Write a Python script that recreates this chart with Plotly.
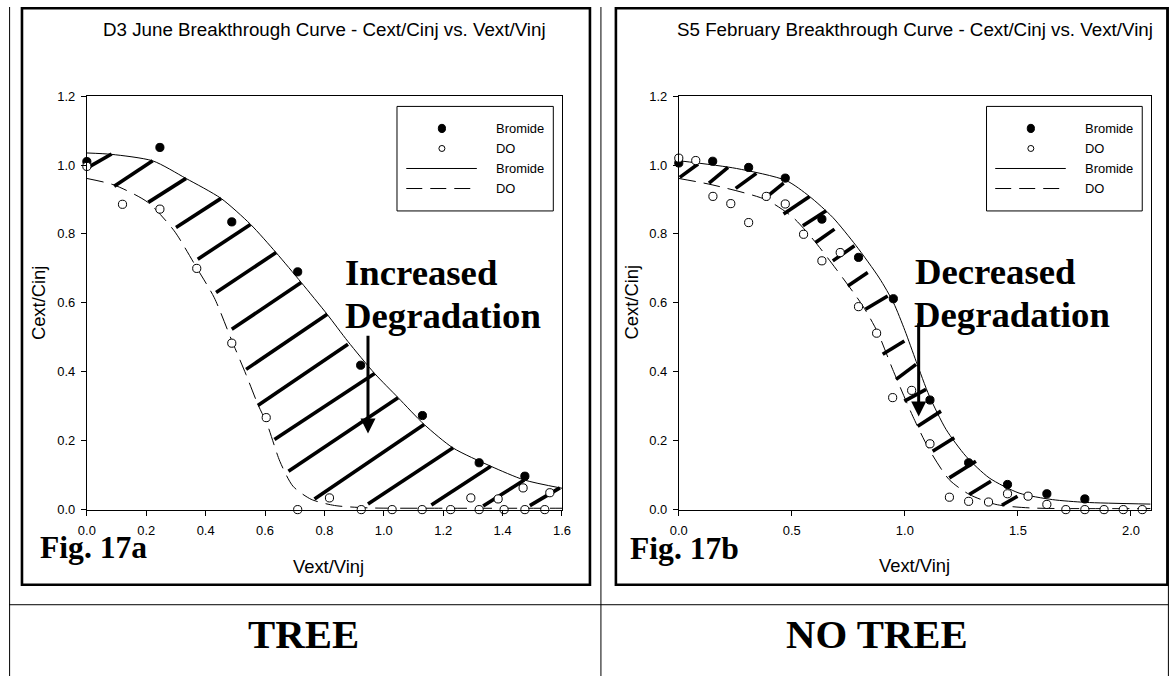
import plotly.graph_objects as go

# The viewer shows the page with an 8 px body margin and rescales the shot,
# so target pixels are mapped back to figure pixels below.
W, H = 1171, 676
OFF = 8
SX, SY = 1171 / 1187, 676 / 692
FIGW, FIGH = 1179, 684
FS = 1.02   # font / marker compensation for the rescale

# ---------------- Fig. 17a (D3 June) ----------------
a_br_x = [0.0, 0.246, 0.488, 0.71, 0.922, 1.13, 1.321, 1.475]
a_br_y = [1.01, 1.051, 0.835, 0.69, 0.419, 0.273, 0.136, 0.097]
a_do_x = [0.0, 0.12, 0.246, 0.37, 0.488, 0.604, 0.71, 0.817, 0.924, 1.028, 1.129, 1.225,
          1.293, 1.321, 1.385, 1.405, 1.469, 1.475, 1.542, 1.559]
a_do_y = [0.996, 0.886, 0.872, 0.70, 0.483, 0.267, 0.0, 0.034, 0.0, 0.0, 0.0, 0.0,
          0.034, 0.0, 0.031, 0.0, 0.063, 0.0, 0.0, 0.049]
a_brfit_x = [0.0, 0.083, 0.222, 0.334, 0.452, 0.551, 0.637, 0.722, 0.809, 0.879, 0.969,
             1.048, 1.136, 1.233, 1.36, 1.473, 1.6]
a_brfit_y = [1.035, 1.031, 1.012, 0.961, 0.903, 0.828, 0.746, 0.659, 0.567, 0.488, 0.395,
             0.325, 0.247, 0.179, 0.126, 0.086, 0.062]
a_dofit_x = [0.0, 0.092, 0.205, 0.294, 0.371, 0.429, 0.486, 0.536, 0.576, 0.607, 0.65,
             0.694, 0.755, 0.834, 0.95, 1.2, 1.6]
a_dofit_y = [0.961, 0.942, 0.892, 0.809, 0.70, 0.615, 0.495, 0.392, 0.305, 0.248, 0.14,
             0.068, 0.030, 0.012, 0.005, 0.004, 0.004]
a_hatch_x0 = [0.0044, 0.0921, 0.2067, 0.3002, 0.3734, 0.4351, 0.4880, 0.5363, 0.5757, 0.6317,
              0.6789, 0.7666, 0.9467, 1.1602, 1.3346, 1.4917]
a_hatch_y0 = [0.9933, 0.9381, 0.8916, 0.8189, 0.7267, 0.6299, 0.5233, 0.4070, 0.3023, 0.2035,
              0.1113, 0.0311, 0.0166, 0.0131, 0.0102, 0.0116]
a_hatch_x1 = [0.0833, 0.2216, 0.3339, 0.4519, 0.5508, 0.6374, 0.7218, 0.8094, 0.8793, 0.9690,
              1.0479, 1.1356, 1.2334, 1.3602, 1.4729, 1.5929]
a_hatch_y1 = [1.0320, 1.0125, 0.9613, 0.9032, 0.8276, 0.7462, 0.6590, 0.5669, 0.4797, 0.3953,
              0.3247, 0.2471, 0.1794, 0.1259, 0.0858, 0.0631]
a_arrow = [0.9467, 0.5087, 0.9467, 0.221]   # x_tail, y_tail, x_tip, y_tip

# ---------------- Fig. 17b (S5 February) ----------------
b_br_x = [0.0, 0.15, 0.309, 0.471, 0.633, 0.795, 0.949, 1.111, 1.282, 1.454, 1.628, 1.796]
b_br_y = [1.006, 1.011, 0.993, 0.962, 0.843, 0.732, 0.612, 0.318, 0.136, 0.073, 0.046, 0.031]
b_do_x = [0.0, 0.075, 0.151, 0.23, 0.309, 0.387, 0.471, 0.552, 0.633, 0.714, 0.795, 0.875,
          0.946, 1.03, 1.111, 1.197, 1.282, 1.37, 1.454, 1.545, 1.628, 1.712, 1.796, 1.881,
          1.966, 2.05]
b_do_y = [1.02, 1.013, 0.909, 0.888, 0.833, 0.909, 0.887, 0.799, 0.722, 0.746, 0.589, 0.512,
          0.325, 0.346, 0.191, 0.036, 0.024, 0.022, 0.046, 0.039, 0.015, 0.0, 0.0, 0.0,
          0.0, 0.0]
b_brfit_x = [0.0, 0.255, 0.475, 0.578, 0.681, 0.784, 0.887, 0.95, 1.0, 1.05, 1.108, 1.182,
             1.27, 1.373, 1.505, 1.653, 1.8, 2.087]
b_brfit_y = [1.0125, 0.99, 0.955, 0.909, 0.848, 0.766, 0.672, 0.60, 0.52, 0.43, 0.33, 0.233,
             0.155, 0.092, 0.048, 0.029, 0.021, 0.016]
b_dofit_x = [0.0, 0.151, 0.387, 0.505, 0.593, 0.696, 0.814, 0.88, 0.946, 1.035, 1.108, 1.196,
             1.285, 1.403, 1.55, 2.087]
b_dofit_y = [0.961, 0.942, 0.899, 0.848, 0.785, 0.698, 0.591, 0.514, 0.407, 0.271, 0.174,
             0.087, 0.044, 0.015, 0.005, 0.003]
b_hatch_x0 = [0.0044, 0.1338, 0.2517, 0.3766, 0.4636, 0.5488, 0.6049, 0.6813, 0.7475, 0.8256,
              0.9020, 0.9611, 0.9978, 1.0566, 1.1229, 1.1965, 1.2848, 1.4291]
b_hatch_y0 = [0.9642, 0.9477, 0.9322, 0.9012, 0.8576, 0.8236, 0.7752, 0.7219, 0.6492, 0.5814,
              0.4506, 0.3779, 0.3148, 0.2422, 0.1695, 0.0921, 0.0436, 0.0125]
b_hatch_x1 = [0.0852, 0.2177, 0.3430, 0.4636, 0.5784, 0.6521, 0.6887, 0.7770, 0.8358, 0.9241,
              0.9978, 1.0494, 1.0936, 1.1598, 1.2185, 1.3143, 1.3805, 1.4981]
b_hatch_y1 = [1.0029, 0.9933, 0.9758, 0.9477, 0.9089, 0.8672, 0.8140, 0.7655, 0.6880, 0.6200,
              0.4893, 0.4215, 0.3488, 0.2858, 0.2084, 0.1404, 0.0823, 0.0387]
b_arrow = [1.061, 0.545, 1.061, 0.27]

y_ticks = [0.0, 0.2, 0.4, 0.6, 0.8, 1.0, 1.2]
a_x_ticks = [0.0, 0.2, 0.4, 0.6, 0.8, 1.0, 1.2, 1.4, 1.6]
b_x_ticks = [0.0, 0.5, 1.0, 1.5, 2.0]

SANS = "Liberation Sans, Arial, sans-serif"
SERIF = "Liberation Serif, Times New Roman, serif"


def px(x):
    return max(0.0004, (x - OFF) / SX) / FIGW


def py(y):
    return 1 - max(0.0006, (y - OFF) / SY) / FIGH


fig = go.Figure()
shapes = []
annotations = []


def add_panel(xa, ya, br_x, br_y, do_x, do_y, brf_x, brf_y, dof_x, dof_y,
              hx0, hy0, hx1, hy1, arrow):
    fig.add_trace(go.Scatter(x=brf_x, y=brf_y, mode="lines", xaxis=xa, yaxis=ya,
                             line=dict(color="black", width=1, shape="spline", smoothing=0.7),
                             hoverinfo="skip"))
    fig.add_trace(go.Scatter(x=dof_x, y=dof_y, mode="lines", xaxis=xa, yaxis=ya,
                             line=dict(color="black", width=1, shape="spline", smoothing=0.7,
                                       dash="17px,8px"),
                             hoverinfo="skip"))
    fig.add_trace(go.Scatter(x=br_x, y=br_y, mode="markers", xaxis=xa, yaxis=ya, cliponaxis=False,
                             marker=dict(symbol="circle", size=8 * FS, color="black",
                                         line=dict(color="black", width=1))))
    fig.add_trace(go.Scatter(x=do_x, y=do_y, mode="markers", xaxis=xa, yaxis=ya, cliponaxis=False,
                             marker=dict(symbol="circle", size=8 * FS, color="white",
                                         line=dict(color="black", width=1))))
    xr = "x" if xa == "x" else "x2"
    yr = "y" if ya == "y" else "y2"
    for a, b, c, d in zip(hx0, hy0, hx1, hy1):
        shapes.append(dict(type="line", xref=xr, yref=yr, x0=a, y0=b, x1=c, y1=d,
                           line=dict(color="black", width=3.6), layer="below"))
    annotations.append(dict(x=arrow[2], y=arrow[3], ax=arrow[0], ay=arrow[1], xref=xr, yref=yr,
                            axref=xr, ayref=yr, showarrow=True, arrowhead=2, arrowsize=1,
                            arrowwidth=3, arrowcolor="black", text=""))


add_panel("x", "y", a_br_x, a_br_y, a_do_x, a_do_y, a_brfit_x, a_brfit_y, a_dofit_x, a_dofit_y,
          a_hatch_x0, a_hatch_y0, a_hatch_x1, a_hatch_y1, a_arrow)
add_panel("x2", "y2", b_br_x, b_br_y, b_do_x, b_do_y, b_brfit_x, b_brfit_y, b_dofit_x, b_dofit_y,
          b_hatch_x0, b_hatch_y0, b_hatch_x1, b_hatch_y1, b_arrow)


def text(x, y, s, size, family=SANS, xanchor="center", angle=0):
    annotations.append(dict(x=px(x), y=py(y), xref="paper", yref="paper", text=s,
                            showarrow=False, xanchor=xanchor, yanchor="middle", textangle=angle,
                            font=dict(family=family, size=size * FS, color="black")))


def legend(bx0, bx1, by0, by1, mx, lx0, lx1, tx, rows):
    shapes.append(dict(type="rect", xref="paper", yref="paper", x0=px(bx0), x1=px(bx1),
                       y0=py(by1), y1=py(by0), line=dict(color="black", width=1),
                       fillcolor="white"))
    r = 3.6
    shapes.append(dict(type="circle", xref="paper", yref="paper", x0=px(mx - r), x1=px(mx + r),
                       y0=py(rows[0] + r + 0.5), y1=py(rows[0] - r - 0.5),
                       line=dict(color="black", width=1), fillcolor="black"))
    r = 3.0
    shapes.append(dict(type="circle", xref="paper", yref="paper", x0=px(mx - r), x1=px(mx + r),
                       y0=py(rows[1] + r), y1=py(rows[1] - r),
                       line=dict(color="black", width=1), fillcolor="white"))
    shapes.append(dict(type="line", xref="paper", yref="paper", x0=px(lx0), x1=px(lx1),
                       y0=py(rows[2]), y1=py(rows[2]), line=dict(color="black", width=1)))
    shapes.append(dict(type="line", xref="paper", yref="paper", x0=px(lx0), x1=px(lx1),
                       y0=py(rows[3]), y1=py(rows[3]),
                       line=dict(color="black", width=1, dash="16px,8px")))
    for s, yy in zip(["Bromide", "DO", "Bromide", "DO"], rows):
        text(tx, yy, s, 12.7, xanchor="left")


rows = [129.3, 149.3, 169.3, 189.3]
legend(396.7, 553.3, 107.3, 211.7, 441.7, 406, 476.7, 494, rows)
legend(987.3, 1143.3, 107.3, 211.7, 1031.7, 996, 1066.7, 1084, rows)

# titles and axis titles
text(324, 30.5, "D3 June Breakthrough Curve - Cext/Cinj vs. Vext/Vinj", 18.4)
text(915.4, 30.5, "S5 February Breakthrough Curve - Cext/Cinj vs. Vext/Vinj", 18.4)
text(38.3, 303.5, "Cext/Cinj", 18, angle=-90)
text(631.7, 303.5, "Cext/Cinj", 18, angle=-90)
text(328, 567, "Vext/Vinj", 18)
text(915, 566, "Vext/Vinj", 18)

# serif annotations
text(343, 273.4, "<b>Increased</b>", 36, family=SERIF, xanchor="left")
text(343, 316.4, "<b>Degradation</b>", 36, family=SERIF, xanchor="left")
text(914, 272.4, "<b>Decreased</b>", 36, family=SERIF, xanchor="left")
text(912.5, 315.4, "<b>Degradation</b>", 36, family=SERIF, xanchor="left")
text(37, 548, "<b>Fig. 17a</b>", 31, family=SERIF, xanchor="left")
text(628, 549, "<b>Fig. 17b</b>", 31, family=SERIF, xanchor="left")
text(303, 635, "<b>TREE</b>", 40, family=SERIF)
text(878, 635, "<b>NO TREE</b>", 40, family=SERIF)

# table lines (thin)
for xx in [8.6, 601, 1169.5]:
    shapes.append(dict(type="line", xref="paper", yref="paper", x0=px(xx), x1=px(xx),
                       y0=py(8), y1=py(H + 10), line=dict(color="black", width=1)))
shapes.append(dict(type="line", xref="paper", yref="paper", x0=px(8), x1=px(1169.5),
                   y0=py(605), y1=py(605), line=dict(color="black", width=1)))
# figure frames (thick)
shapes.append(dict(type="rect", xref="paper", yref="paper", x0=px(21), x1=px(590),
                   y0=py(585), y1=py(9.3), line=dict(color="black", width=2.6)))
shapes.append(dict(type="rect", xref="paper", yref="paper", x0=px(616), x1=px(1168.5),
                   y0=py(585), y1=py(9.3), line=dict(color="black", width=2.6)))

axis_common = dict(showgrid=False, zeroline=False, showline=True, linecolor="black",
                   linewidth=1, mirror=True, ticks="outside", ticklen=5, tickwidth=1,
                   tickcolor="black", tickformat=".1f",
                   tickfont=dict(family=SANS, size=12.7 * FS, color="black"))

fig.update_layout(
    width=FIGW, height=FIGH, margin=dict(l=0, r=0, t=0, b=0),
    paper_bgcolor="white", plot_bgcolor="white", showlegend=False,
    xaxis=dict(domain=[px(86), px(562)], range=[0, 1.6], tickvals=a_x_ticks,
               anchor="y", ticklabelstandoff=4, **axis_common),
    yaxis=dict(domain=[py(510), py(97)], range=[0, 1.2], tickvals=y_ticks,
               anchor="x", ticklabelstandoff=3, **axis_common),
    xaxis2=dict(domain=[px(679), px(1151.7)], range=[0, 2.087], tickvals=b_x_ticks,
                anchor="y2", ticklabelstandoff=4, **axis_common),
    yaxis2=dict(domain=[py(510), py(97)], range=[0, 1.2], tickvals=y_ticks,
                anchor="x2", ticklabelstandoff=3, **axis_common),
    shapes=shapes, annotations=annotations,
)

fig.write_html("out.html")
